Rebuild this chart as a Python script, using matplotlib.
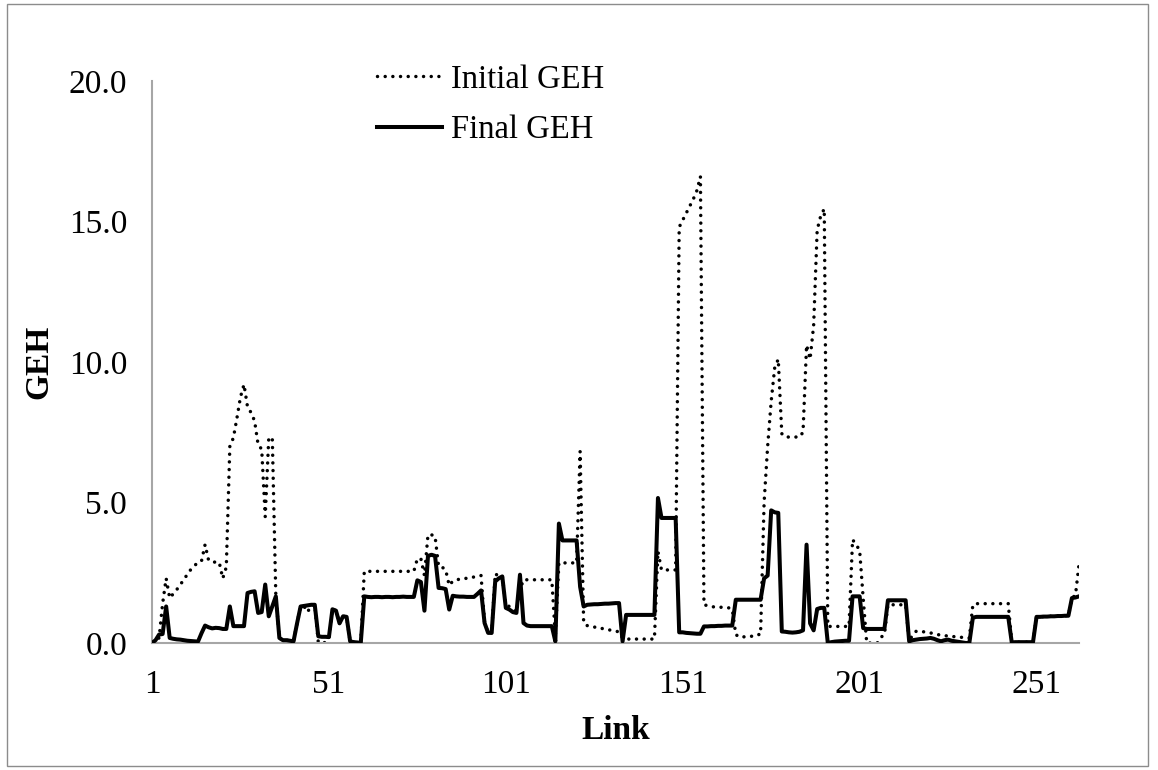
import matplotlib
matplotlib.use("Agg")
import matplotlib.pyplot as plt
from matplotlib.patches import Rectangle

# ---------------- data ----------------
links = list(range(1, 264))

final_geh = (
    [0.0, 0.1, 0.3, 0.32, 1.3, 0.18, 0.15, 0.13, 0.12, 0.1]            # 1-10
    + [0.08, 0.07, 0.06, 0.05, 0.35, 0.62, 0.56, 0.52, 0.54, 0.53]     # 11-20
    + [0.5, 0.5, 1.3, 0.6, 0.6, 0.6, 0.6, 1.78, 1.82, 1.84]            # 21-30
    + [1.07, 1.1, 2.08, 0.95, 1.3, 1.66, 0.18, 0.1, 0.1, 0.08]         # 31-40
    + [0.06, 0.7, 1.3, 1.32, 1.34, 1.36, 1.36, 0.24, 0.22, 0.22]       # 41-50
    + [0.21, 1.2, 1.15, 0.7, 0.95, 0.93, 0.06, 0.03, 0.02, 0.0]        # 51-60
    + [1.66, 1.64, 1.63, 1.64, 1.64, 1.63, 1.64, 1.64, 1.63, 1.64]     # 61-70
    + [1.64, 1.65, 1.64, 1.64, 1.64, 2.23, 2.17, 1.15, 3.1, 3.14]      # 71-80
    + [3.1, 1.96, 1.95, 1.92, 1.19, 1.68, 1.66, 1.65, 1.65, 1.64]      # 81-90
    + [1.64, 1.64, 1.75, 1.87, 0.71, 0.36, 0.36, 2.19, 2.3, 2.37]      # 91-100
    + [1.25, 1.19, 1.1, 1.07, 2.43, 0.71, 0.62, 0.6, 0.6, 0.6]         # 101-110
    + [0.6, 0.6, 0.6, 0.6, 0.06, 4.25, 3.65, 3.65, 3.65, 3.65]         # 111-120
    + [3.65, 2.0, 1.3, 1.36, 1.37, 1.38, 1.38, 1.39, 1.4, 1.4]         # 121-130
    + [1.41, 1.42, 1.42, 0.06, 1.0, 1.0, 1.0, 1.0, 1.0, 1.0]           # 131-140
    + [1.0, 1.0, 1.0, 5.16, 4.45, 4.45, 4.45, 4.45, 4.45, 0.38]        # 141-150
    + [0.38, 0.36, 0.35, 0.34, 0.33, 0.33, 0.59, 0.59, 0.6, 0.6]       # 151-160
    + [0.61, 0.61, 0.62, 0.62, 0.62, 1.54, 1.54, 1.54, 1.54, 1.54]     # 161-170
    + [1.54, 1.54, 1.54, 2.3, 2.4, 4.72, 4.65, 4.63, 0.41, 0.4]        # 171-180
    + [0.38, 0.37, 0.38, 0.4, 0.45, 3.5, 0.7, 0.45, 1.21, 1.25]        # 181-190
    + [1.25, 0.0, 0.03, 0.05, 0.06, 0.07, 0.08, 0.08, 1.66, 1.66]      # 191-200
    + [1.66, 0.53, 0.5, 0.5, 0.5, 0.5, 0.5, 0.5, 1.52, 1.52]           # 201-210
    + [1.52, 1.52, 1.52, 1.52, 0.06, 0.1, 0.12, 0.14, 0.15, 0.16]      # 211-220
    + [0.18, 0.15, 0.1, 0.06, 0.1, 0.12, 0.08, 0.06, 0.04, 0.02]       # 221-230
    + [0.0, 0.0, 0.9, 0.93, 0.93, 0.93, 0.93, 0.93, 0.93, 0.93]        # 231-240
    + [0.93, 0.93, 0.93, 0.02, 0.03, 0.03, 0.03, 0.03, 0.03, 0.03]     # 241-250
    + [0.93, 0.93, 0.94, 0.94, 0.95, 0.95, 0.96, 0.96, 0.97, 0.97]     # 251-260
    + [1.6, 1.62, 1.66]                                                # 261-263
)

initial_geh = (
    [0.05, 0.1, 0.18, 1.4, 2.3, 1.6, 1.75, 1.9, 2.08, 2.25]            # 1-10
    + [2.45, 2.62, 2.75, 2.87, 2.92, 3.5, 2.94, 2.9, 2.87, 2.87]       # 11-20
    + [2.3, 2.7, 7.0, 7.3, 8.0, 8.75, 9.2, 8.4, 8.2, 7.9]              # 21-30
    + [7.05, 6.9, 4.5, 7.3, 7.3, 1.66, 0.18, 0.1, 0.1, 0.08]           # 31-40
    + [0.06, 0.7, 1.3, 1.3, 1.1, 1.36, 1.36, 0.02, 0.0, 0.02]          # 41-50
    + [0.21, 1.2, 1.15, 0.7, 0.95, 0.93, 0.06, 0.03, 0.02, 0.0]        # 51-60
    + [2.55, 2.55, 2.55, 2.55, 2.55, 2.55, 2.55, 2.55, 2.55, 2.55]     # 61-70
    + [2.55, 2.55, 2.55, 2.55, 2.55, 3.0, 3.0, 2.4, 3.85, 3.85]        # 71-80
    + [3.8, 2.73, 2.7, 2.6, 2.05, 2.2, 2.25, 2.27, 2.3, 2.3]           # 81-90
    + [2.32, 2.35, 2.37, 2.4, 0.71, 0.36, 0.36, 2.47, 2.37, 2.37]      # 91-100
    + [1.36, 1.3, 1.2, 1.1, 1.9, 2.25, 2.25, 2.25, 2.25, 2.25]         # 101-110
    + [2.25, 2.25, 2.25, 2.25, 0.24, 2.85, 2.85, 2.85, 2.85, 2.85]     # 111-120
    + [2.85, 6.82, 0.71, 0.62, 0.6, 0.57, 0.53, 0.52, 0.5, 0.47]       # 121-130
    + [0.45, 0.42, 0.4, 0.18, 0.14, 0.14, 0.14, 0.14, 0.14, 0.14]      # 131-140
    + [0.14, 0.14, 0.14, 3.26, 2.6, 2.6, 2.6, 2.6, 2.6, 14.8]          # 141-150
    + [15.05, 15.3, 15.55, 15.8, 16.1, 16.6, 1.36, 1.33, 1.3, 1.28]    # 151-160
    + [1.28, 1.27, 1.26, 1.25, 1.2, 0.3, 0.21, 0.21, 0.24, 0.24]       # 161-170
    + [0.24, 0.3, 0.3, 5.0, 7.0, 8.6, 9.8, 10.1, 7.45, 7.33]           # 171-180
    + [7.33, 7.33, 7.33, 7.33, 7.5, 10.6, 10.1, 11.3, 14.7, 15.2]      # 181-190
    + [15.45, 0.59, 0.59, 0.59, 0.59, 0.59, 0.59, 0.59, 3.68, 3.5]     # 191-200
    + [3.3, 1.6, 0.0, 0.0, 0.0, 0.0, 0.2, 0.3, 1.36, 1.36]             # 201-210
    + [1.36, 1.36, 1.36, 1.36, 0.06, 0.3, 0.42, 0.41, 0.4, 0.38]       # 211-220
    + [0.36, 0.33, 0.3, 0.28, 0.26, 0.25, 0.24, 0.22, 0.21, 0.2]       # 221-230
    + [0.18, 0.18, 1.36, 1.4, 1.4, 1.4, 1.4, 1.4, 1.4, 1.4]            # 231-240
    + [1.4, 1.4, 1.4, 0.02, 0.03, 0.03, 0.03, 0.03, 0.03, 0.03]        # 241-250
    + [0.93, 0.93, 0.94, 0.94, 0.95, 0.95, 0.96, 0.96, 0.97, 0.97]     # 251-260
    + [1.6, 1.7, 2.8]                                                  # 261-263
)

x_ticks = [1, 51, 101, 151, 201, 251]
y_ticks = [0, 5, 10, 15, 20]
series_labels = ["Initial GEH", "Final GEH"]
x_title = "Link"
y_title = "GEH"

assert len(final_geh) == len(links), len(final_geh)
assert len(initial_geh) == len(links), len(initial_geh)

# ---------------- figure ----------------
W, H = 1158, 770
fig = plt.figure(figsize=(W / 100, H / 100), dpi=100)
plt.rcParams["font.family"] = ["Liberation Serif", "DejaVu Serif"]

left, right, top, bottom = 152, 1079, 81, 643
ax = fig.add_axes([left / W, 1 - bottom / H, (right - left) / W, (bottom - top) / H])

dot_style = (0, (0.01, 2.2))
l1, = ax.plot(links, initial_geh, color="black", lw=2.5, linestyle=dot_style,
              dash_capstyle="round", label=series_labels[0], zorder=2)
l2, = ax.plot(links, final_geh, color="black", lw=2.9, solid_joinstyle="round",
              label=series_labels[1], zorder=3)

ax.set_xlim(1, 263)
ax.set_ylim(0, 20)
ax.set_xticks(x_ticks)
ax.set_xticklabels([str(t) for t in x_ticks])
ax.set_yticks(y_ticks)
ax.set_yticklabels([f"{t:.1f}" for t in y_ticks])
ax.tick_params(axis="both", length=0, labelsize=24, colors="black")
ax.tick_params(axis="y", pad=18)
ax.tick_params(axis="x", pad=19)

for s in ["top", "right"]:
    ax.spines[s].set_visible(False)
for s in ["left", "bottom"]:
    ax.spines[s].set_color("#A6A6A6")
    ax.spines[s].set_linewidth(1.5)

ax.set_xlabel(x_title, fontsize=24, fontweight="bold", labelpad=11)
ax.set_ylabel(y_title, fontsize=24, fontweight="bold", labelpad=10)
ax.patch.set_alpha(0)

leg = fig.legend(handles=[l1, l2], loc="upper left",
                 bbox_to_anchor=(377 / W, 1 - 64 / H), frameon=False,
                 fontsize=23.5, handlelength=2.0, handletextpad=0.28,
                 labelspacing=0.62, borderpad=0, borderaxespad=0)

# chart-area border
fig.patches.append(Rectangle((7 / W, 4 / H), (1148 - 7) / W, (766 - 4) / H,
                             transform=fig.transFigure, fill=False,
                             edgecolor="#8C8C8C", lw=1.0))

fig.savefig("out.png", dpi=100)
